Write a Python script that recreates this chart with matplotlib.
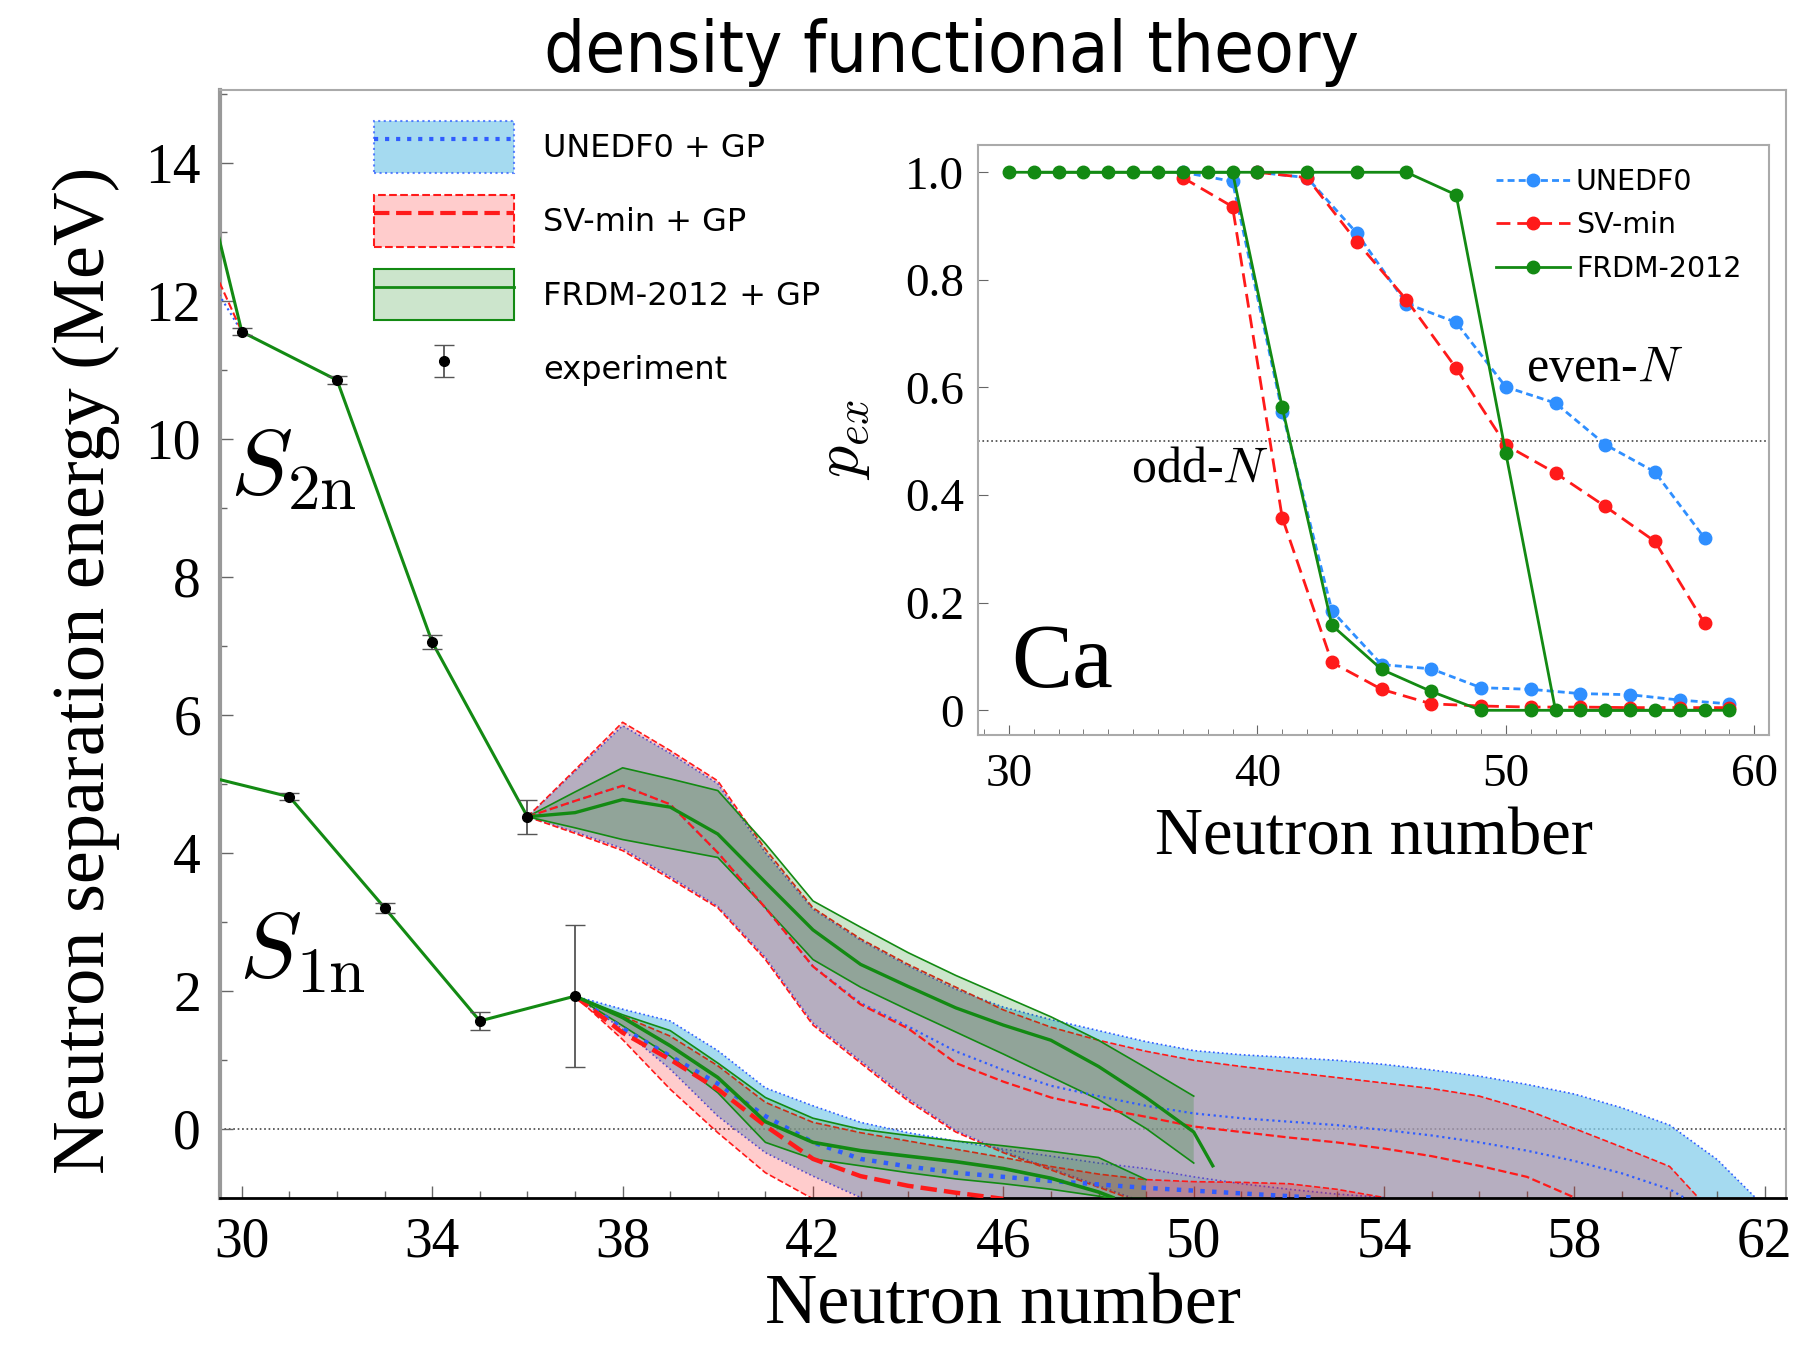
import numpy as np
import matplotlib
matplotlib.use('Agg')
import matplotlib.pyplot as plt
from matplotlib.patches import Patch
from matplotlib.lines import Line2D
from matplotlib.ticker import MultipleLocator

plt.rcParams['font.family'] = 'serif'
plt.rcParams['font.serif'] = ['Liberation Serif', 'DejaVu Serif']
plt.rcParams['mathtext.fontset'] = 'cm'

# ---- experiment ----
n_exp_s2n = [30, 32, 34, 36]
s2n_exp = [11.55, 10.85, 7.05, 4.52]
s2n_err = [0.05, 0.06, 0.1, 0.25]
n_exp_s1n = [31, 33, 35, 37]
s1n_exp = [4.81, 3.2, 1.56, 1.92]
s1n_err = [0.05, 0.07, 0.13, 1.03]

# lead-in through known masses
n_s2n_known = [28, 30, 32, 34, 36]
s2n_known = [17.2, 11.55, 10.85, 7.05, 4.52]
n_s1n_known = [29, 31, 33, 35, 37]
s1n_known = [5.15, 4.81, 3.2, 1.56, 1.92]
n_lead = [28, 30]
s2n_lead_un = [13.8, 11.55]
s2n_lead_sv = [14.6, 11.55]

# ---- S2n extrapolations ----
n_s2n_fr = [36, 37, 38, 39, 40, 41, 42, 43, 44, 45, 46, 47, 48, 49, 50]
s2n_fr_hi = [4.52, 4.88, 5.23, 5.07, 4.90, 4.13, 3.30, 2.92, 2.55, 2.22, 1.92, 1.62, 1.28, 0.88, 0.47]
s2n_fr_lo = [4.52, 4.36, 4.19, 4.06, 3.93, 3.20, 2.45, 2.05, 1.72, 1.40, 1.08, 0.75, 0.42, 0.0, -0.5]
n_s2n_fr_mid = [36, 37, 38, 39, 40, 41, 42, 43, 44, 45, 46, 47, 48, 49, 50, 50.4]
s2n_fr_mid = [4.52, 4.58, 4.77, 4.66, 4.27, 3.57, 2.88, 2.38, 2.06, 1.75, 1.5, 1.28, 0.9, 0.45, -0.05, -0.54]

n_s2n_sv_hi = [36, 37, 38, 39, 40, 41, 42, 43, 44, 45, 46, 47, 48, 49, 50, 51, 52, 53, 54, 55, 56, 57, 58, 59, 60, 60.6]
s2n_sv_hi = [4.52, 5.2, 5.89, 5.48, 5.04, 4.05, 3.2, 2.75, 2.38, 2.05, 1.72, 1.47, 1.28, 1.12, 0.99, 0.9, 0.82, 0.74, 0.66, 0.58, 0.47, 0.27, 0.0, -0.27, -0.55, -1.0]
n_s2n_sv_mid = [36, 37, 38, 39, 40, 41, 42, 43, 44, 45, 46, 47, 48, 49, 50, 51, 52, 53, 54, 55, 56, 57, 58]
s2n_sv_mid = [4.52, 4.75, 4.97, 4.70, 4.0, 3.2, 2.35, 1.8, 1.45, 0.95, 0.68, 0.45, 0.3, 0.17, 0.03, -0.05, -0.13, -0.2, -0.29, -0.4, -0.54, -0.7, -1.0]
n_s2n_sv_lo = [36, 37, 38, 39, 40, 41, 42, 43, 44, 45, 46, 47, 48, 49]
s2n_sv_lo = [4.52, 4.28, 4.03, 3.62, 3.2, 2.45, 1.5, 0.95, 0.4, -0.05, -0.35, -0.6, -0.85, -1.1]

n_s2n_un_hi = [36, 37, 38, 39, 40, 41, 42, 43, 44, 45, 46, 47, 48, 49, 50, 51, 52, 53, 54, 55, 56, 57, 58, 59, 60, 61, 61.8]
s2n_un_hi = [4.52, 5.18, 5.84, 5.44, 5.0, 4.0, 3.18, 2.73, 2.36, 2.02, 1.76, 1.58, 1.42, 1.26, 1.13, 1.07, 1.03, 0.99, 0.93, 0.85, 0.76, 0.64, 0.5, 0.3, 0.05, -0.45, -1.0]
n_s2n_un_mid = [36, 37, 38, 39, 40, 41, 42, 43, 44, 45, 46, 47, 48, 49, 50, 51, 52, 53, 54, 55, 56, 57, 58, 59, 60, 60.3]
s2n_un_mid = [4.52, 4.75, 4.97, 4.70, 4.0, 3.2, 2.35, 1.82, 1.48, 1.12, 0.85, 0.62, 0.47, 0.33, 0.22, 0.15, 0.1, 0.05, -0.02, -0.1, -0.2, -0.32, -0.47, -0.65, -0.88, -1.0]
n_s2n_un_lo = [36, 37, 38, 39, 40, 41, 42, 43, 44, 45, 46, 47, 48, 49]
s2n_un_lo = [4.52, 4.3, 4.06, 3.65, 3.22, 2.48, 1.53, 0.98, 0.43, -0.03, -0.33, -0.58, -0.83, -1.08]

# ---- S1n extrapolations ----
n_s1n_fr = [37, 38, 39, 40, 41, 42, 43, 44, 45, 46, 47, 48, 49]
s1n_fr_hi = [1.92, 1.65, 1.42, 0.95, 0.45, 0.15, -0.01, -0.1, -0.18, -0.25, -0.33, -0.42, -0.74]
s1n_fr_lo = [1.92, 1.49, 1.05, 0.52, -0.2, -0.44, -0.54, -0.64, -0.73, -0.8, -0.88, -0.98, -1.1]
n_s1n_fr_mid = [37, 38, 39, 40, 41, 42, 43, 44, 45, 46, 47, 48, 48.3]
s1n_fr_mid = [1.92, 1.61, 1.2, 0.74, 0.1, -0.2, -0.32, -0.4, -0.48, -0.58, -0.72, -0.92, -1.0]

n_s1n_sv_hi = [37, 38, 39, 40, 41, 42, 43, 44, 45, 46, 47, 48, 49, 50, 51, 52, 53, 54]
s1n_sv_hi = [1.92, 1.63, 1.34, 0.91, 0.38, 0.09, -0.06, -0.18, -0.3, -0.42, -0.55, -0.66, -0.74, -0.77, -0.78, -0.8, -0.88, -1.0]
n_s1n_sv_mid = [37, 38, 39, 40, 41, 42, 43, 44, 45, 46]
s1n_sv_mid = [1.92, 1.39, 1.0, 0.57, 0.04, -0.44, -0.69, -0.83, -0.93, -1.02]
n_s1n_sv_lo = [37, 38, 39, 40, 41, 42]
s1n_sv_lo = [1.92, 1.29, 0.57, -0.06, -0.64, -1.02]

n_s1n_un_hi = [37, 38, 39, 40, 41, 42, 43, 44, 45, 46, 47, 48, 49, 50, 51, 52, 53, 54]
s1n_un_hi = [1.92, 1.73, 1.56, 1.13, 0.59, 0.33, 0.09, -0.06, -0.18, -0.3, -0.4, -0.5, -0.58, -0.7, -0.8, -0.88, -0.95, -1.0]
n_s1n_un_mid = [37, 38, 39, 40, 41, 42, 43, 44, 45, 46, 47, 48, 49, 50, 51, 52, 52.5]
s1n_un_mid = [1.92, 1.45, 1.05, 0.65, 0.18, -0.2, -0.44, -0.55, -0.64, -0.7, -0.76, -0.81, -0.86, -0.9, -0.94, -0.98, -1.0]
n_s1n_un_lo = [37, 38, 39, 40, 41, 42, 43, 44]
s1n_un_lo = [1.92, 1.44, 0.86, 0.18, -0.35, -0.69, -1.0, -1.2]

# ---- inset: p_ex ----
n_even = [30, 32, 34, 36, 38, 40, 42, 44, 46, 48, 50, 52, 54, 56, 58]
n_odd = [31, 33, 35, 37, 39, 41, 43, 45, 47, 49, 51, 53, 55, 57, 59]
p_fr_even = [1, 1, 1, 1, 1, 1, 1, 1, 1, 0.958, 0.478, 0, 0, 0, 0]
p_fr_odd = [1, 1, 1, 1, 1, 0.563, 0.158, 0.076, 0.035, 0, 0, 0, 0, 0, 0]
n_even_m = [40, 42, 44, 46, 48, 50, 52, 54, 56, 58]
n_odd_m = [37, 39, 41, 43, 45, 47, 49, 51, 53, 55, 57, 59]
p_sv_even = [1.0, 0.99, 0.871, 0.763, 0.636, 0.493, 0.441, 0.379, 0.314, 0.162]
p_sv_odd = [0.99, 0.936, 0.358, 0.089, 0.039, 0.012, 0.008, 0.006, 0.006, 0.005, 0.005, 0.005]
p_un_even = [1.0, 0.99, 0.887, 0.756, 0.721, 0.601, 0.571, 0.494, 0.443, 0.32]
p_un_odd = [1.0, 0.983, 0.555, 0.185, 0.085, 0.077, 0.042, 0.039, 0.031, 0.029, 0.019, 0.012]

C_UN = '#2f5cff'
C_SV = '#ff1a1a'
C_FR = '#138a13'
F_UN = '#87ceeb'
C_UN_IN = '#2f8fff'

fig = plt.figure(figsize=(18.19, 13.46), dpi=100)
ax = fig.add_axes([0.1212, 0.1103, 0.8608, 0.8225])


def band(n_hi, hi, n_lo, lo, fill, alpha, col, ls, z):
    xs = np.r_[np.asarray(n_hi, float), np.asarray(n_lo, float)[::-1]]
    ys = np.r_[np.asarray(hi, float), np.asarray(lo, float)[::-1]]
    ax.fill(xs, ys, color=fill, alpha=alpha, lw=0, zorder=z)
    ax.plot(n_hi, hi, ls=ls, color=col, lw=1.2, zorder=z + 0.1)
    ax.plot(n_lo, lo, ls=ls, color=col, lw=1.2, zorder=z + 0.1)


# bands
band(n_s2n_un_hi, s2n_un_hi, n_s2n_un_lo, s2n_un_lo, F_UN, 0.75, C_UN, ':', 1)
band(n_s1n_un_hi, s1n_un_hi, n_s1n_un_lo, s1n_un_lo, F_UN, 0.75, C_UN, ':', 1)
band(n_s2n_sv_hi, s2n_sv_hi, n_s2n_sv_lo, s2n_sv_lo, 'red', 0.2, C_SV, '--', 2)
band(n_s1n_sv_hi, s1n_sv_hi, n_s1n_sv_lo, s1n_sv_lo, 'red', 0.2, C_SV, '--', 2)
band(n_s2n_fr, s2n_fr_hi, n_s2n_fr, s2n_fr_lo, 'green', 0.2, C_FR, '-', 3)
band(n_s1n_fr, s1n_fr_hi, n_s1n_fr, s1n_fr_lo, 'green', 0.2, C_FR, '-', 3)

# central lines
ax.plot(n_lead, s2n_lead_un, ':', color=C_UN, lw=1.5, zorder=4)
ax.plot(n_lead, s2n_lead_sv, '--', color=C_SV, lw=1.5, zorder=4)
ax.plot(n_s2n_un_mid, s2n_un_mid, ':', color=C_UN, lw=1.6, zorder=4)
ax.plot(n_s2n_sv_mid, s2n_sv_mid, '--', color=C_SV, lw=1.6, zorder=4)
ax.plot(n_s1n_un_mid, s1n_un_mid, ':', color=C_UN, lw=3.2, zorder=4)
ax.plot(n_s1n_sv_mid, s1n_sv_mid, '--', color=C_SV, lw=3.2, zorder=4)
ax.plot(n_s2n_known, s2n_known, '-', color=C_FR, lw=2.2, zorder=5)
ax.plot(n_s1n_known, s1n_known, '-', color=C_FR, lw=2.2, zorder=5)
ax.plot(n_s2n_fr_mid, s2n_fr_mid, '-', color=C_FR, lw=2.4, zorder=5)
ax.plot(n_s1n_fr_mid, s1n_fr_mid, '-', color=C_FR, lw=2.6, zorder=5)

ax.axhline(0, color='#444444', ls=':', lw=1.2, zorder=0.5)

eb = ax.errorbar(n_exp_s2n, s2n_exp, yerr=s2n_err, fmt='o', color='k', ms=7,
                 ecolor='#555555', elinewidth=1.3, capsize=7, zorder=10)
ax.errorbar(n_exp_s1n, s1n_exp, yerr=s1n_err, fmt='o', color='k', ms=7,
            ecolor='#555555', elinewidth=1.3, capsize=7, zorder=10)

ax.text(29.75, 9.2, r'$S_{2\mathrm{n}}$', fontsize=67, va='baseline')
ax.text(29.95, 2.2, r'$S_{1\mathrm{n}}$', fontsize=67, va='baseline')

ax.set_xlim(29.55, 62.45)
ax.set_ylim(-1.0, 15.05)
ax.set_xticks(range(30, 63, 4))
ax.xaxis.set_minor_locator(MultipleLocator(1))
ax.set_yticks(range(0, 15, 2))
ax.yaxis.set_minor_locator(MultipleLocator(1))
ax.tick_params(which='both', direction='in', labelsize=40, pad=14)
ax.tick_params(which='major', length=9, width=1, color='#666666')
ax.tick_params(which='minor', length=5, width=1, color='#666666')
for s in ['top', 'right']:
    ax.spines[s].set_color('#aaaaaa')
    ax.spines[s].set_linewidth(1.5)
ax.spines['left'].set_color('#999999')
ax.spines['left'].set_linewidth(3)
ax.spines['bottom'].set_color('k')
ax.spines['bottom'].set_linewidth(2)

ax.set_xlabel('Neutron number', fontsize=52, labelpad=3)
ax.set_ylabel('Neutron separation energy (MeV)', fontsize=49)
ax.yaxis.set_label_coords(-0.064, 0.476)

handles = [
    (Patch(facecolor=F_UN, alpha=0.75, edgecolor=C_UN, linestyle=':', lw=1.5),
     Line2D([], [], ls=':', color=C_UN, lw=3)),
    (Patch(facecolor=(1, 0, 0, 0.2), edgecolor=C_SV, linestyle='--', lw=1.5),
     Line2D([], [], ls='--', color=C_SV, lw=3)),
    (Patch(facecolor=(0, 0.5, 0, 0.2), edgecolor=C_FR, lw=1.5),
     Line2D([], [], ls='-', color=C_FR, lw=2)),
    eb,
]
labels = ['UNEDF0 + GP', 'SV-min + GP', 'FRDM-2012 + GP', 'experiment']
ax.legend(handles, labels, loc='upper left', bbox_to_anchor=(0.098, 0.972),
          frameon=False, prop={'family': 'DejaVu Sans', 'size': 23},
          handlelength=4.4, handleheight=2.1, labelspacing=0.7,
          handletextpad=0.9, borderpad=0, borderaxespad=0)

# ---- inset ----
axi = fig.add_axes([0.5376, 0.4543, 0.435, 0.4377])
axi.axhline(0.5, color='#444444', ls=':', lw=1.2, zorder=0.5)
kw_un = dict(color=C_UN_IN, ls=(0, (2.5, 1.5)), lw=2, marker='o', ms=9)
kw_sv = dict(color=C_SV, ls=(0, (5, 2.5)), lw=2, marker='o', ms=9)
kw_fr = dict(color=C_FR, ls='-', lw=2, marker='o', ms=9)
axi.plot(n_odd_m, p_un_odd, **kw_un)
axi.plot(n_even_m, p_un_even, **kw_un)
axi.plot(n_odd_m, p_sv_odd, **kw_sv)
axi.plot(n_even_m, p_sv_even, **kw_sv)
axi.plot(n_odd, p_fr_odd, **kw_fr)
axi.plot(n_even, p_fr_even, **kw_fr)

axi.set_xlim(28.75, 60.6)
axi.set_ylim(-0.045, 1.05)
axi.set_xticks([30, 40, 50, 60])
axi.xaxis.set_minor_locator(MultipleLocator(1))
axi.set_yticks([0, 0.2, 0.4, 0.6, 0.8, 1.0])
axi.set_yticklabels(['0', '0.2', '0.4', '0.6', '0.8', '1.0'])
axi.tick_params(which='both', direction='in', labelsize=34)
axi.tick_params(axis='y', pad=10)
axi.tick_params(axis='x', pad=14)
axi.tick_params(which='major', length=7, color='#666666')
axi.tick_params(which='minor', length=4, color='#666666')
for s in axi.spines.values():
    s.set_color('#aaaaaa')
    s.set_linewidth(1.5)
axi.set_xlabel('Neutron number', fontsize=48, labelpad=8)
axi.set_ylabel(r'$p_{ex}$', fontsize=46, labelpad=24)

axi.text(50.8, 0.612, r'even-$N$', fontsize=36, va='baseline')
axi.text(34.9, 0.425, r'odd-$N$', fontsize=36, va='baseline')
axi.text(30.1, 0.043, 'Ca', fontsize=66, va='baseline')

ih = [Line2D([], [], **kw_un), Line2D([], [], **kw_sv), Line2D([], [], **kw_fr)]
axi.legend(ih, ['UNEDF0', 'SV-min', 'FRDM-2012'], loc='upper left',
           bbox_to_anchor=(0.655, 0.962), frameon=False,
           prop={'family': 'DejaVu Sans', 'size': 20.5}, handlelength=2.6,
           labelspacing=0.55, handletextpad=0.2, borderpad=0, borderaxespad=0)

title = fig.text(0.523, 0.9465, 'density functional theory', fontsize=52,
                 family='DejaVu Sans', fontstretch='condensed',
                 ha='center', va='baseline')
# fit title width and y-label length to the reference
fig.canvas.draw()
w = title.get_window_extent().width
if w > 830:
    title.set_fontsize(52 * 806.0 / w)
ylab = ax.yaxis.label
h = ylab.get_window_extent().height
ylab.set_fontsize(49 * 1006.0 / h)

fig.savefig('out.png', dpi=100)
